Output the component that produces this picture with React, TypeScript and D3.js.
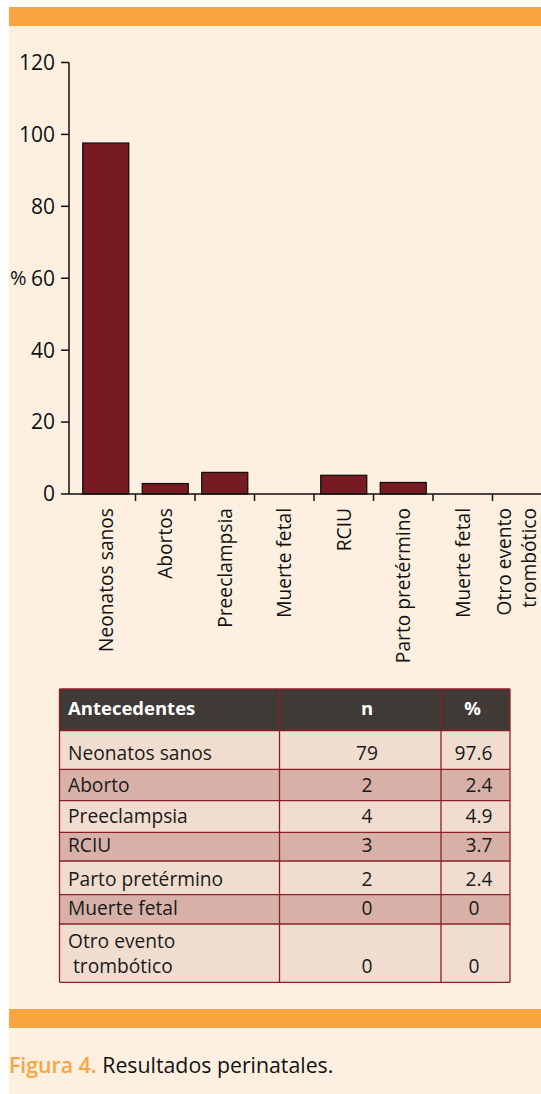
import * as d3 from "d3"

// chart bars (heights, %)
const categories = [
  "Neonatos sanos",
  "Abortos",
  "Preeclampsia",
  "Muerte fetal",
  "RCIU",
  "Parto pretérmino",
  "Muerte fetal",
  "Otro evento\ntrombótico",
]
const percents = [97.6, 2.9, 6.0, 0, 5.2, 3.2, 0, 0]
const yTicks = [0, 20, 40, 60, 80, 100, 120]

// table
const tableHeader = ["Antecedentes", "n", "%"]
const tableLabels = [
  "Neonatos sanos",
  "Aborto",
  "Preeclampsia",
  "RCIU",
  "Parto pretérmino",
  "Muerte fetal",
  "Otro evento\n trombótico",
]
const tableN = ["79", "2", "4", "3", "2", "0", "0"]
const tablePct = ["97.6", "2.4", "4.9", "3.7", "2.4", "0", "0"]

const W = 541
const H = 1094
const FONT = "'Open Sans', 'Noto Sans', sans-serif"
const CREAM = "#fdf0e1"
const ORANGE = "#f8a53f"
const BAR = "#771a21"
const BORDER = "#8b1f26"

// table layout
const tableTop = 689
const headerH = 41.7
const rowHeights = [38.6, 31.4, 31.6, 28.7, 33.7, 29.3, 58.3]
const colX = [59.5, 279.5, 441, 510]

export default function App() {
  const y = d3.scaleLinear().domain([0, 120]).range([494, 62.5])
  const x = d3
    .scaleBand<number>()
    .domain(d3.range(categories.length))
    .range([76, 552])
    .paddingInner(0.227)
    .paddingOuter(0.1135)
  const axisX = 69
  const y0 = y(0)

  const rowTops: number[] = []
  let acc = tableTop + headerH
  rowHeights.forEach((h) => {
    rowTops.push(acc)
    acc += h
  })
  const tableBottom = acc

  return (
    <svg
      width={W}
      height={H}
      style={{ position: "absolute", left: 0, top: 0, fontFamily: FONT }}
    >
      <rect width={W} height={H} fill="#ffffff" />
      <rect x={9} y={7} width={W - 9} height={H - 7} fill={CREAM} />
      <rect x={9} y={7} width={W - 9} height={19} fill={ORANGE} />
      <rect x={9} y={1009} width={W - 9} height={19} fill={ORANGE} />

      {/* bars */}
      {percents.map((v, i) => (
        <rect
          key={i}
          x={x(i)}
          y={y(v)}
          width={x.bandwidth()}
          height={y0 - y(v)}
          fill={BAR}
          stroke="#111"
          strokeWidth={1.3}
          style={{ display: v > 0 ? undefined : "none" }}
        />
      ))}

      {/* y axis */}
      <line x1={axisX} x2={axisX} y1={y(120)} y2={y0} stroke="#111" strokeWidth={1.5} />
      {yTicks.map((t) => (
        <g key={t} transform={`translate(0,${y(t)})`}>
          <line x1={axisX - 8} x2={axisX} stroke="#111" strokeWidth={1.5} />
          <text x={55} dy="0.35em" textAnchor="end" fontSize={21} fill="#111">
            {t}
          </text>
        </g>
      ))}
      <text x={10} y={y(60)} dy="0.35em" fontSize={20} fill="#111">
        %
      </text>

      {/* x axis */}
      <line x1={axisX} x2={W} y1={y0} y2={y0} stroke="#111" strokeWidth={1.5} />
      {d3.range(1, categories.length).map((k) => {
        const tx = (x(k) as number) - (x.step() - x.bandwidth()) / 2
        return <line key={k} x1={tx} x2={tx} y1={y0} y2={y0 + 7} stroke="#111" strokeWidth={1.5} />
      })}
      {categories.map((c, i) => {
        const cx = (x(i) as number) + x.bandwidth() / 2
        const lines = c.split("\n")
        const base = cx + 7 - (lines.length - 1) * 18
        return lines.map((ln, j) => (
          <text
            key={`${i}-${j}`}
            transform={`translate(${base + j * 25},508) rotate(-90)`}
            textAnchor="end"
            fontSize={19.2}
            fill="#111"
          >
            {ln}
          </text>
        ))
      })}

      {/* table */}
      <rect x={colX[0]} y={tableTop} width={colX[3] - colX[0]} height={headerH} fill="#403a37" />
      {rowTops.map((t, i) => (
        <rect
          key={i}
          x={colX[0]}
          y={t}
          width={colX[3] - colX[0]}
          height={rowHeights[i]}
          fill={i % 2 === 0 ? "#f1ddcf" : "#d7b1a8"}
        />
      ))}
      {[tableTop, tableTop + headerH, ...rowTops.slice(1), tableBottom].map((ty, i) => (
        <line key={i} x1={colX[0]} x2={colX[3]} y1={ty} y2={ty} stroke={BORDER} strokeWidth={1.3} />
      ))}
      {colX.map((cx, i) => (
        <line key={i} x1={cx} x2={cx} y1={tableTop} y2={tableBottom} stroke={BORDER} strokeWidth={1.3} />
      ))}
      <g fontSize={18.5} fontWeight="bold" fill="#ffffff">
        <text x={68} y={715}>{tableHeader[0]}</text>
        <text x={367} y={715} textAnchor="middle">{tableHeader[1]}</text>
        <text x={472.5} y={715} textAnchor="middle">{tableHeader[2]}</text>
      </g>
      {tableLabels.map((lab, i) => {
        const bottom = rowTops[i] + rowHeights[i]
        const lines = lab.split("\n")
        const lastBase = bottom - 9
        return (
          <g key={i} fontSize={19.2} fill="#1a1a1a">
            {lines.map((ln, j) => (
              <text key={j} x={68} y={lastBase - (lines.length - 1 - j) * 25.3} style={{ whiteSpace: "pre" }}>
                {ln}
              </text>
            ))}
            <text x={367} y={lastBase} textAnchor="middle">
              {tableN[i]}
            </text>
            {tablePct[i].includes(".") ? (
              <text x={492.5} y={lastBase} textAnchor="end">
                {tablePct[i]}
              </text>
            ) : (
              <text x={474} y={lastBase} textAnchor="middle">
                {tablePct[i]}
              </text>
            )}
          </g>
        )
      })}

      {/* caption */}
      <text x={9} y={1073} fontSize={21.3}>
        <tspan fill={ORANGE} fontWeight="600">
          Figura 4.
        </tspan>
        <tspan fill="#111"> Resultados perinatales.</tspan>
      </text>
    </svg>
  )
}
